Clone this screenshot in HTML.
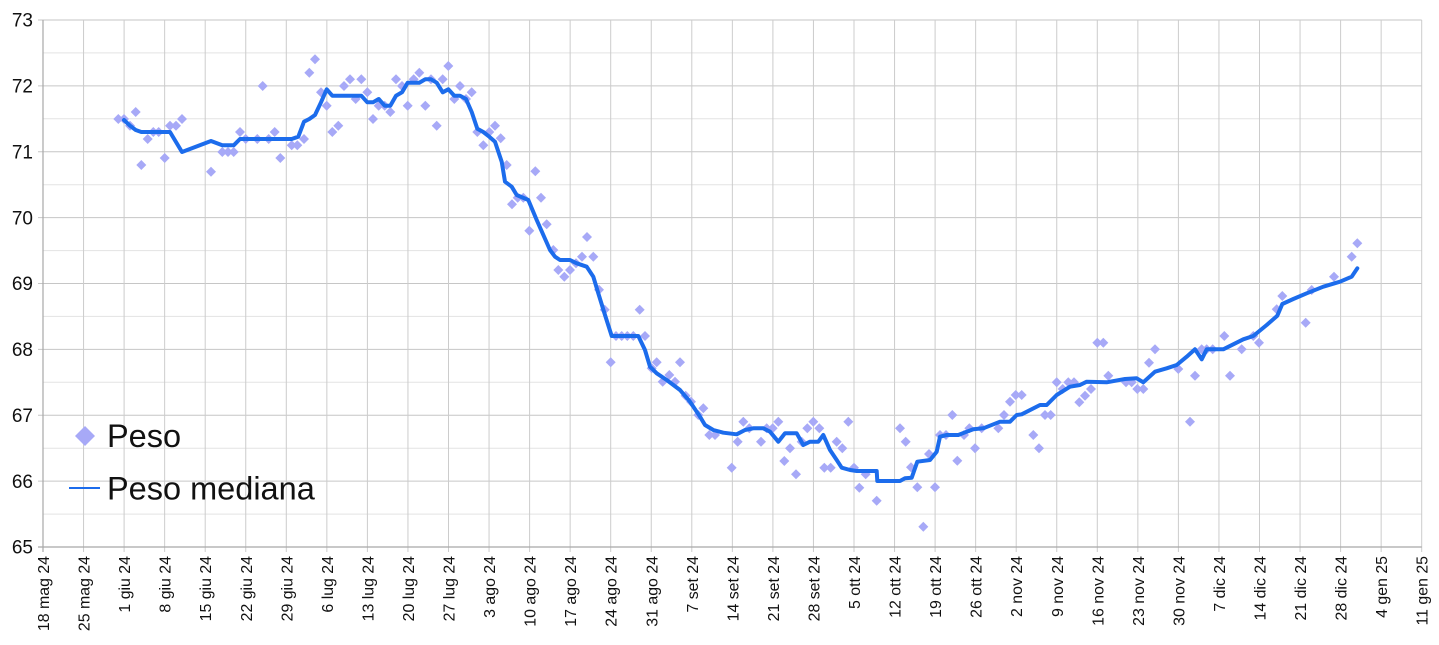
<!DOCTYPE html>
<html><head><meta charset="utf-8"><style>
html,body{margin:0;padding:0;background:#fff;}
svg{display:block;}
text{font-family:"Liberation Sans",Arial,sans-serif;fill:#111;}
</style></head><body>
<svg width="1439" height="645" viewBox="0 0 1439 645" xmlns="http://www.w3.org/2000/svg">
<defs><polygon id="d" points="0,-5 5,0 0,5 -5,0" fill="#a7a9f7"/></defs>
<rect width="1439" height="645" fill="#fff"/>
<!-- minor horizontal grid -->
<g stroke="#e3e3e3" stroke-width="1">
<line x1="43" x2="1421.7" y1="52.9" y2="52.9"/><line x1="43" x2="1421.7" y1="118.8" y2="118.8"/>
<line x1="43" x2="1421.7" y1="184.7" y2="184.7"/><line x1="43" x2="1421.7" y1="250.6" y2="250.6"/>
<line x1="43" x2="1421.7" y1="316.4" y2="316.4"/><line x1="43" x2="1421.7" y1="382.3" y2="382.3"/>
<line x1="43" x2="1421.7" y1="448.2" y2="448.2"/><line x1="43" x2="1421.7" y1="514.1" y2="514.1"/>
</g>
<!-- major horizontal grid -->
<g stroke="#c6c6c6" stroke-width="1">
<line x1="38" x2="1421.7" y1="20" y2="20"/><line x1="38" x2="1421.7" y1="85.9" y2="85.9"/>
<line x1="38" x2="1421.7" y1="151.75" y2="151.75"/><line x1="38" x2="1421.7" y1="217.6" y2="217.6"/>
<line x1="38" x2="1421.7" y1="283.5" y2="283.5"/><line x1="38" x2="1421.7" y1="349.4" y2="349.4"/>
<line x1="38" x2="1421.7" y1="415.25" y2="415.25"/><line x1="38" x2="1421.7" y1="481.1" y2="481.1"/>
</g>
<!-- vertical grid -->
<g stroke="#cccccc" stroke-width="1">
<line x1="83.55" x2="83.55" y1="20" y2="552"/><line x1="124.1" x2="124.1" y1="20" y2="552"/>
<line x1="164.65" x2="164.65" y1="20" y2="552"/><line x1="205.2" x2="205.2" y1="20" y2="552"/>
<line x1="245.75" x2="245.75" y1="20" y2="552"/><line x1="286.3" x2="286.3" y1="20" y2="552"/>
<line x1="326.85" x2="326.85" y1="20" y2="552"/><line x1="367.4" x2="367.4" y1="20" y2="552"/>
<line x1="407.95" x2="407.95" y1="20" y2="552"/><line x1="448.5" x2="448.5" y1="20" y2="552"/>
<line x1="489.05" x2="489.05" y1="20" y2="552"/><line x1="529.6" x2="529.6" y1="20" y2="552"/>
<line x1="570.15" x2="570.15" y1="20" y2="552"/><line x1="610.7" x2="610.7" y1="20" y2="552"/>
<line x1="651.25" x2="651.25" y1="20" y2="552"/><line x1="691.8" x2="691.8" y1="20" y2="552"/>
<line x1="732.35" x2="732.35" y1="20" y2="552"/><line x1="772.9" x2="772.9" y1="20" y2="552"/>
<line x1="813.45" x2="813.45" y1="20" y2="552"/><line x1="854" x2="854" y1="20" y2="552"/>
<line x1="894.55" x2="894.55" y1="20" y2="552"/><line x1="935.1" x2="935.1" y1="20" y2="552"/>
<line x1="975.65" x2="975.65" y1="20" y2="552"/><line x1="1016.2" x2="1016.2" y1="20" y2="552"/>
<line x1="1056.75" x2="1056.75" y1="20" y2="552"/><line x1="1097.3" x2="1097.3" y1="20" y2="552"/>
<line x1="1137.85" x2="1137.85" y1="20" y2="552"/><line x1="1178.4" x2="1178.4" y1="20" y2="552"/>
<line x1="1218.95" x2="1218.95" y1="20" y2="552"/><line x1="1259.5" x2="1259.5" y1="20" y2="552"/>
<line x1="1300.05" x2="1300.05" y1="20" y2="552"/><line x1="1340.6" x2="1340.6" y1="20" y2="552"/>
<line x1="1381.15" x2="1381.15" y1="20" y2="552"/><line x1="1421.7" x2="1421.7" y1="20" y2="552"/>
</g>
<!-- axes -->
<g stroke="#a8a8a8" stroke-width="1.2">
<line x1="43" x2="43" y1="20" y2="552"/>
<line x1="38" x2="1421.7" y1="547" y2="547"/>
</g>
<!-- y labels -->
<g font-size="19" text-anchor="end">
<text x="33" y="26.7">73</text><text x="33" y="92.6">72</text><text x="33" y="158.4">71</text>
<text x="33" y="224.3">70</text><text x="33" y="290.2">69</text><text x="33" y="356.1">68</text>
<text x="33" y="421.9">67</text><text x="33" y="487.8">66</text><text x="33" y="553.7">65</text>
</g>
<!-- x labels -->
<g font-size="15.9" text-anchor="end">
<text transform="translate(49,556) rotate(-90)">18 mag 24</text>
<text transform="translate(89.55,556) rotate(-90)">25 mag 24</text>
<text transform="translate(130.1,556) rotate(-90)">1 giu 24</text>
<text transform="translate(170.65,556) rotate(-90)">8 giu 24</text>
<text transform="translate(211.2,556) rotate(-90)">15 giu 24</text>
<text transform="translate(251.75,556) rotate(-90)">22 giu 24</text>
<text transform="translate(292.3,556) rotate(-90)">29 giu 24</text>
<text transform="translate(332.85,556) rotate(-90)">6 lug 24</text>
<text transform="translate(373.4,556) rotate(-90)">13 lug 24</text>
<text transform="translate(413.95,556) rotate(-90)">20 lug 24</text>
<text transform="translate(454.5,556) rotate(-90)">27 lug 24</text>
<text transform="translate(495.05,556) rotate(-90)">3 ago 24</text>
<text transform="translate(535.6,556) rotate(-90)">10 ago 24</text>
<text transform="translate(576.15,556) rotate(-90)">17 ago 24</text>
<text transform="translate(616.7,556) rotate(-90)">24 ago 24</text>
<text transform="translate(657.25,556) rotate(-90)">31 ago 24</text>
<text transform="translate(697.8,556) rotate(-90)">7 set 24</text>
<text transform="translate(738.35,556) rotate(-90)">14 set 24</text>
<text transform="translate(778.9,556) rotate(-90)">21 set 24</text>
<text transform="translate(819.45,556) rotate(-90)">28 set 24</text>
<text transform="translate(860,556) rotate(-90)">5 ott 24</text>
<text transform="translate(900.55,556) rotate(-90)">12 ott 24</text>
<text transform="translate(941.1,556) rotate(-90)">19 ott 24</text>
<text transform="translate(981.65,556) rotate(-90)">26 ott 24</text>
<text transform="translate(1022.2,556) rotate(-90)">2 nov 24</text>
<text transform="translate(1062.75,556) rotate(-90)">9 nov 24</text>
<text transform="translate(1103.3,556) rotate(-90)">16 nov 24</text>
<text transform="translate(1143.85,556) rotate(-90)">23 nov 24</text>
<text transform="translate(1184.4,556) rotate(-90)">30 nov 24</text>
<text transform="translate(1224.95,556) rotate(-90)">7 dic 24</text>
<text transform="translate(1265.5,556) rotate(-90)">14 dic 24</text>
<text transform="translate(1306.05,556) rotate(-90)">21 dic 24</text>
<text transform="translate(1346.6,556) rotate(-90)">28 dic 24</text>
<text transform="translate(1387.15,556) rotate(-90)">4 gen 25</text>
<text transform="translate(1427.7,556) rotate(-90)">11 gen 25</text>
</g>
<!-- scatter points -->
<g>
<use href="#d" x="118.3" y="119"/><use href="#d" x="124" y="119"/><use href="#d" x="130" y="125.7"/><use href="#d" x="135.7" y="112"/><use href="#d" x="141.3" y="165"/><use href="#d" x="147.7" y="139"/><use href="#d" x="153.3" y="132"/><use href="#d" x="158.7" y="132"/><use href="#d" x="164.7" y="158"/><use href="#d" x="170" y="125.7"/><use href="#d" x="176" y="125.7"/><use href="#d" x="182" y="119"/><use href="#d" x="211" y="171.7"/><use href="#d" x="222.3" y="152"/><use href="#d" x="228" y="152"/><use href="#d" x="233.7" y="152"/><use href="#d" x="240" y="132"/><use href="#d" x="245.7" y="139"/><use href="#d" x="257.3" y="139"/><use href="#d" x="262.7" y="86"/><use href="#d" x="268.7" y="139"/><use href="#d" x="274.7" y="132"/><use href="#d" x="280.3" y="158"/><use href="#d" x="291.7" y="145.3"/><use href="#d" x="297.3" y="145.3"/>
<use href="#d" x="304" y="139"/><use href="#d" x="309.3" y="72.7"/><use href="#d" x="315" y="59.3"/><use href="#d" x="321" y="92.3"/><use href="#d" x="326.7" y="105.7"/><use href="#d" x="332.3" y="132"/><use href="#d" x="338.3" y="125.7"/><use href="#d" x="344" y="86"/><use href="#d" x="350" y="79.3"/><use href="#d" x="355.7" y="99"/><use href="#d" x="361.3" y="79.3"/><use href="#d" x="367.3" y="92.3"/><use href="#d" x="373" y="119"/><use href="#d" x="378.7" y="105.7"/><use href="#d" x="384.7" y="105.7"/><use href="#d" x="390.3" y="112"/><use href="#d" x="396" y="79.3"/><use href="#d" x="402" y="86"/><use href="#d" x="407.7" y="105.7"/><use href="#d" x="413.7" y="79.3"/><use href="#d" x="419.3" y="72.7"/><use href="#d" x="425.3" y="105.7"/><use href="#d" x="431" y="79.3"/><use href="#d" x="436.7" y="125.7"/><use href="#d" x="442.7" y="79.3"/><use href="#d" x="448.3" y="66"/><use href="#d" x="454.3" y="99"/><use href="#d" x="460" y="86"/><use href="#d" x="466" y="99"/><use href="#d" x="471.7" y="92.3"/><use href="#d" x="477.3" y="132"/><use href="#d" x="483.3" y="145.3"/><use href="#d" x="489.3" y="132"/><use href="#d" x="495" y="125.7"/>
<use href="#d" x="500.7" y="138.3"/><use href="#d" x="506.7" y="165"/><use href="#d" x="512" y="204.3"/><use href="#d" x="517.7" y="197.7"/><use href="#d" x="523.3" y="197.7"/><use href="#d" x="529.3" y="230.7"/><use href="#d" x="535.3" y="171.3"/><use href="#d" x="541" y="197.7"/><use href="#d" x="546.7" y="224.3"/><use href="#d" x="553.3" y="250"/><use href="#d" x="558.3" y="270"/><use href="#d" x="564.3" y="276.7"/><use href="#d" x="570" y="270"/><use href="#d" x="576" y="263.3"/><use href="#d" x="582" y="256.7"/><use href="#d" x="587" y="237"/><use href="#d" x="593.3" y="256.7"/><use href="#d" x="599" y="289.7"/><use href="#d" x="604.7" y="309.7"/><use href="#d" x="610.7" y="362.3"/><use href="#d" x="616" y="336"/><use href="#d" x="621.7" y="336"/><use href="#d" x="627.3" y="336"/><use href="#d" x="633.3" y="336"/><use href="#d" x="639.7" y="309.7"/><use href="#d" x="645" y="336"/><use href="#d" x="651.7" y="368.3"/><use href="#d" x="656.7" y="362.3"/><use href="#d" x="662.7" y="381.7"/><use href="#d" x="669.3" y="375"/><use href="#d" x="675" y="381.7"/><use href="#d" x="680" y="362.3"/>
<use href="#d" x="685.7" y="395.7"/><use href="#d" x="691" y="401.7"/><use href="#d" x="698.3" y="415"/><use href="#d" x="703.3" y="408.3"/><use href="#d" x="709.3" y="435"/><use href="#d" x="715" y="435"/><use href="#d" x="731.7" y="467.7"/><use href="#d" x="737.7" y="441.7"/><use href="#d" x="743.3" y="421.7"/><use href="#d" x="749.3" y="428.3"/><use href="#d" x="761" y="441.7"/><use href="#d" x="766.7" y="428.3"/><use href="#d" x="772.7" y="428.3"/><use href="#d" x="778.3" y="421.7"/><use href="#d" x="784.3" y="461"/><use href="#d" x="790" y="448.3"/><use href="#d" x="796" y="474.3"/><use href="#d" x="801.7" y="441.7"/><use href="#d" x="807.3" y="428.3"/><use href="#d" x="813.3" y="421.7"/><use href="#d" x="819.3" y="428.3"/><use href="#d" x="824.3" y="467.7"/><use href="#d" x="830.7" y="467.7"/><use href="#d" x="836.7" y="441.7"/><use href="#d" x="842.3" y="448.3"/><use href="#d" x="848.3" y="421.7"/><use href="#d" x="854" y="467.7"/><use href="#d" x="859.3" y="487.7"/><use href="#d" x="865.7" y="474.3"/><use href="#d" x="876.7" y="500.7"/>
<use href="#d" x="900" y="428.3"/><use href="#d" x="905.7" y="441.7"/><use href="#d" x="911" y="467.3"/><use href="#d" x="917.3" y="487.3"/><use href="#d" x="923.3" y="526.7"/><use href="#d" x="929" y="454"/><use href="#d" x="935" y="487.3"/><use href="#d" x="940" y="435"/><use href="#d" x="946" y="435"/><use href="#d" x="952.3" y="415"/><use href="#d" x="957.3" y="460.7"/><use href="#d" x="964" y="435"/><use href="#d" x="969.3" y="428.3"/><use href="#d" x="975" y="448.3"/><use href="#d" x="981.7" y="428.3"/><use href="#d" x="998.3" y="428.3"/><use href="#d" x="1004" y="415"/><use href="#d" x="1010" y="401.7"/><use href="#d" x="1015.7" y="395"/><use href="#d" x="1021.7" y="395"/><use href="#d" x="1033.3" y="435"/><use href="#d" x="1039" y="448.3"/>
<use href="#d" x="1045" y="415"/><use href="#d" x="1050.7" y="415"/><use href="#d" x="1056.7" y="382.3"/><use href="#d" x="1062.7" y="389"/><use href="#d" x="1068.3" y="382.3"/><use href="#d" x="1074" y="382.3"/><use href="#d" x="1079.3" y="402.3"/><use href="#d" x="1085" y="395.7"/><use href="#d" x="1091" y="389"/><use href="#d" x="1097.3" y="342.7"/><use href="#d" x="1103.3" y="342.7"/><use href="#d" x="1108.3" y="375.7"/><use href="#d" x="1126" y="382.3"/><use href="#d" x="1131.7" y="382.3"/><use href="#d" x="1137.3" y="389"/><use href="#d" x="1143.3" y="389"/><use href="#d" x="1149" y="362.7"/><use href="#d" x="1155" y="349.3"/><use href="#d" x="1178.3" y="369"/><use href="#d" x="1190" y="421.7"/><use href="#d" x="1195" y="375.7"/><use href="#d" x="1201.7" y="349.3"/><use href="#d" x="1206.7" y="349.3"/><use href="#d" x="1212.7" y="349.3"/><use href="#d" x="1224.3" y="336"/><use href="#d" x="1230" y="375.7"/><use href="#d" x="1241.7" y="349.3"/><use href="#d" x="1253.3" y="336"/><use href="#d" x="1259" y="342.7"/><use href="#d" x="1276.7" y="309.3"/><use href="#d" x="1282.3" y="296"/><use href="#d" x="1305.7" y="322.7"/><use href="#d" x="1311.7" y="290"/><use href="#d" x="1334" y="276.7"/><use href="#d" x="1351.7" y="256.7"/><use href="#d" x="1357.3" y="243.3"/>
</g>
<!-- median line -->
<polyline fill="none" stroke="#1c6cec" stroke-width="4" stroke-linejoin="round" stroke-linecap="round" points="124,120 130,125.7 135.7,130 141.3,132 170,132 182,152 211,141 222.3,145.3 233.7,145.3 240,139 245.7,139 291.7,139 298.3,136.7 304,121.7 309.3,119 315,115 321,102.3 326.7,89.3 332.3,95.7 361.3,95.7 367.3,102.3 373,102.3 378.7,99 384.7,105.7 390.3,105.7 396,95.7 402,92.3 407.7,82.7 419.3,82.7 425.3,79.3 431,79.3 436.7,82.7 442.7,92.3 448.3,89.3 454.3,95.7 460,95.7 466,99 471.7,112 477.3,128.7 483.3,132 489.3,136.7 495,141.7 501.7,161.7 505,181.7 511.7,186.7 516.7,195 528.3,200 536.7,220 550,250 555,256.7 560,260 570,260 576.7,263.3 586.7,266.7 593.3,276.7 598.3,293.3 605,315 611.7,336 638.3,336 645,350 650,366.7 656.7,373.3 666.7,380 680,390 690,401.7 700,416.7 705,425 713.3,430 723.3,432.7 736.7,434.3 745,430 753.3,428.3 763.3,428.3 770,431.7 778.3,441.7 785,433.3 796.7,433.3 803.3,445 810,441.7 818.3,441.7 823.3,435 830,450 836.7,460 841.7,467.7 850,470 856.7,471 876.7,471 877.3,481 900,481 905,478.3 911.7,477.7 917.3,461.7 930,460 936.7,451.7 940,436.7 946.7,435 958.3,435 966.7,431.7 973.3,429.3 983.3,428.3 1000,421.7 1010,421.7 1016.7,415 1021.7,414.3 1040,405 1046.7,405 1056.7,395 1070,386.7 1080,385 1086.7,381.7 1106.7,382.3 1125,379 1136.7,378.3 1143.3,382.3 1155,371.7 1166.7,368.3 1176.7,365 1186.7,356.7 1195,349.3 1201.7,359.3 1206.7,349.3 1223.3,349.3 1243.3,339.3 1253.3,336 1266.7,325 1277.3,315.7 1282.3,304 1293.3,299 1306.7,293.3 1323.3,286.7 1340,281.7 1351.7,276.7 1357.3,268.3"/>
<!-- legend -->
<polygon points="85,426 95,436 85,446 75,436" fill="#a7a9f7"/>
<text x="107" y="447" font-size="32.5">Peso</text>
<line x1="69" x2="100" y1="488" y2="488" stroke="#1c6cec" stroke-width="2"/>
<text x="107" y="499.5" font-size="32.5">Peso mediana</text>
</svg>
</body></html>
